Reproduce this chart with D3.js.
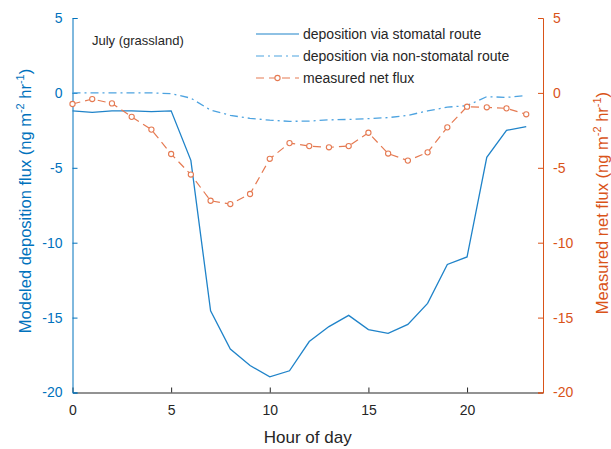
<!DOCTYPE html>
<html>
<head>
<meta charset="utf-8">
<script src="https://cdn.jsdelivr.net/npm/d3@7"></script>
<style>
  body { margin: 0; background: #fff; }
  svg text { font-family: "Liberation Sans", Arial, sans-serif; }
</style>
</head>
<body>
<div id="chart"></div>
<script>
const hours = d3.range(0, 24);
const stomatal = [-1.2, -1.3, -1.2, -1.2, -1.25, -1.2, -4.5, -14.55, -17.1, -18.2, -18.95, -18.55,
    -16.6, -15.6, -14.85, -15.8, -16.05, -15.45, -14.05, -11.45, -10.95, -4.3, -2.5, -2.25];
const nonStomatal = [0, 0, 0, 0, 0, -0.05, -0.35, -1.15, -1.5, -1.7, -1.82, -1.9,
    -1.88, -1.8, -1.77, -1.72, -1.65, -1.5, -1.2, -0.95, -0.85, -0.25, -0.3, -0.18];
const measured = [-0.74, -0.41, -0.7, -1.6, -2.45, -4.08, -5.45, -7.2, -7.42, -6.75, -4.4, -3.35,
    -3.55, -3.63, -3.55, -2.66, -4.05, -4.52, -3.97, -2.3, -0.92, -0.96, -1.03, -1.43];
const xTicks = [0, 5, 10, 15, 20];
const yTicks = [5, 0, -5, -10, -15, -20];

const width = 611;
const height = 449;
const margin = { top: 18, right: 68, bottom: 56.5, left: 72.5 };

const blue = "#0072BD";
const orange = "#D95319";

const svg = d3.select("#chart")
    .append("svg")
    .attr("width", width)
    .attr("height", height);

const xScale = d3.scaleLinear()
    .domain([0, 23.85])
    .range([margin.left, width - margin.right]);

const yLeft = d3.scaleLinear()
    .domain([-20, 5])
    .range([height - margin.bottom, margin.top]);

const yRight = d3.scaleLinear()
    .domain([-20, 5])
    .range([height - margin.bottom, margin.top]);

const fmt = d => String(d);

// x axis
const xAxis = svg.append("g")
    .attr("transform", `translate(0,${height - margin.bottom})`)
    .call(d3.axisBottom(xScale).tickValues(xTicks).tickFormat(fmt).tickSize(-5).tickPadding(13).tickSizeOuter(0));
xAxis.select(".domain").attr("stroke", "#262626");
xAxis.selectAll(".tick line").attr("stroke", "#262626");
xAxis.selectAll(".tick text").attr("fill", "#262626").style("font-size", "14px");

// left axis
const leftAxis = svg.append("g")
    .attr("transform", `translate(${margin.left},0)`)
    .call(d3.axisLeft(yLeft).tickValues(yTicks).tickFormat(fmt).tickSize(-5).tickPadding(10).tickSizeOuter(-5));
leftAxis.select(".domain").attr("stroke", blue);
leftAxis.selectAll(".tick line").attr("stroke", blue);
leftAxis.selectAll(".tick text").attr("fill", blue).style("font-size", "14px");

// right axis
const rightAxis = svg.append("g")
    .attr("transform", `translate(${width - margin.right},0)`)
    .call(d3.axisRight(yRight).tickValues(yTicks).tickFormat(fmt).tickSize(-5).tickPadding(10).tickSizeOuter(-5));
rightAxis.select(".domain").attr("stroke", orange);
rightAxis.selectAll(".tick line").attr("stroke", orange);
rightAxis.selectAll(".tick text").attr("fill", orange).style("font-size", "14px");

// axis labels
svg.append("text")
    .attr("x", (margin.left + width - margin.right) / 2)
    .attr("y", 443)
    .attr("text-anchor", "middle")
    .attr("fill", "#262626")
    .style("font-size", "17px")
    .text("Hour of day");

function unitLabel(sel, main) {
    sel.append("tspan").text(main + " (ng m");
    sel.append("tspan").attr("dy", -7).style("font-size", "11px").text("-2");
    sel.append("tspan").attr("dy", 7).text(" hr");
    sel.append("tspan").attr("dy", -7).style("font-size", "11px").text("-1");
    sel.append("tspan").attr("dy", 7).text(")");
}

svg.append("text")
    .attr("transform", "translate(31,201) rotate(-90)")
    .attr("text-anchor", "middle")
    .attr("fill", blue)
    .style("font-size", "16.5px")
    .call(unitLabel, "Modeled deposition flux");

svg.append("text")
    .attr("transform", "translate(608,203) rotate(-90)")
    .attr("text-anchor", "middle")
    .attr("fill", orange)
    .style("font-size", "16.5px")
    .call(unitLabel, "Measured net flux");

// lines
const lineL = (arr) => d3.line()
    .x((d, i) => xScale(hours[i]))
    .y(d => yLeft(d))(arr);

svg.append("path")
    .attr("d", lineL(stomatal))
    .attr("fill", "none")
    .attr("stroke", "#1f83c9")
    .attr("stroke-width", 1.3);

svg.append("path")
    .attr("d", lineL(nonStomatal))
    .attr("fill", "none")
    .attr("stroke", "#4da3e0")
    .attr("stroke-width", 1.3)
    .attr("stroke-dasharray", "8,4,2,4");

svg.append("path")
    .attr("d", d3.line().x((d, i) => xScale(hours[i])).y(d => yRight(d))(measured))
    .attr("fill", "none")
    .attr("stroke", "#e57a52")
    .attr("stroke-width", 1.2)
    .attr("stroke-dasharray", "8,5");

svg.selectAll(".dot")
    .data(measured)
    .enter().append("circle")
    .attr("cx", (d, i) => xScale(hours[i]))
    .attr("cy", d => yRight(d))
    .attr("r", 2.6)
    .attr("fill", "#fff")
    .attr("stroke", "#e57a52")
    .attr("stroke-width", 1.1);

// annotation
svg.append("text")
    .attr("x", 92)
    .attr("y", 45)
    .attr("fill", "#262626")
    .style("font-size", "13px")
    .text("July (grassland)");

// legend
const legendItems = [
    { label: "deposition via stomatal route", color: "#1f83c9", dash: null, marker: false },
    { label: "deposition via non-stomatal route", color: "#4da3e0", dash: "8,4,2,4", marker: false },
    { label: "measured net flux", color: "#e57a52", dash: "8,5", marker: true }
];

const legend = svg.append("g");
legendItems.forEach((item, i) => {
    const y = 34 + i * 22;
    legend.append("line")
        .attr("x1", 256).attr("x2", 299)
        .attr("y1", y).attr("y2", y)
        .attr("stroke", item.color)
        .attr("stroke-width", 1.2)
        .attr("stroke-dasharray", item.dash);
    if (item.marker) {
        legend.append("circle")
            .attr("cx", 277.5).attr("cy", y).attr("r", 2.6)
            .attr("fill", "#fff")
            .attr("stroke", item.color)
            .attr("stroke-width", 1.1);
    }
    legend.append("text")
        .attr("x", 303)
        .attr("y", y + 5)
        .attr("fill", "#262626")
        .style("font-size", "14px")
        .text(item.label);
});
</script>
</body>
</html>
